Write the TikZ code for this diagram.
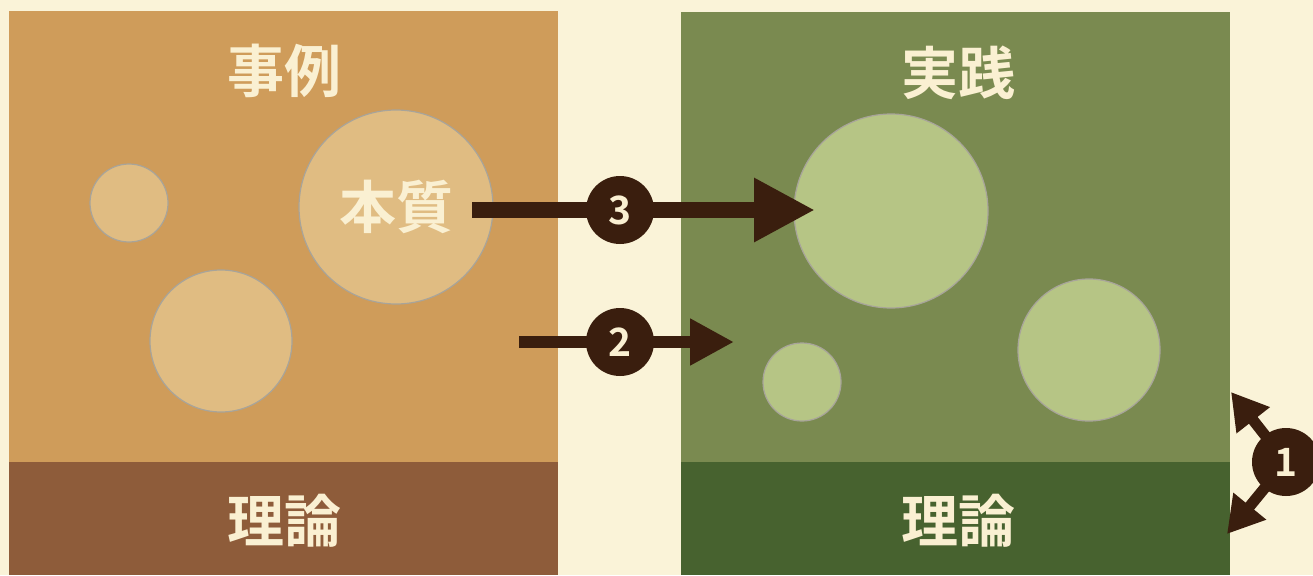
\documentclass[tikz,border=0pt]{standalone}
\usepackage{fontspec}
\setmainfont{Noto Sans CJK JP}
\newfontfamily\cjkb{Noto Sans CJK JP Bold}
\usetikzlibrary{arrows.meta}
\definecolor{bg}{HTML}{FAF3D8}
\definecolor{ltop}{HTML}{CF9C5A}
\definecolor{lband}{HTML}{8E5C3A}
\definecolor{rtop}{HTML}{7A8A50}
\definecolor{rband}{HTML}{47622F}
\definecolor{lcirc}{HTML}{E0BC82}
\definecolor{rcirc}{HTML}{B6C585}
\definecolor{cedge}{HTML}{A8A49A}
\definecolor{dark}{HTML}{3A1E0E}
\definecolor{cream}{HTML}{FAF0D2}
\tikzset{
  title/.style={text=cream, font=\cjkb\fontsize{57}{62}\selectfont, inner sep=0},
  lc/.style={circle, fill=lcirc, draw=cedge, line width=1.2pt, inner sep=0},
  rc/.style={circle, fill=rcirc, draw=cedge, line width=1.2pt, inner sep=0},
  num/.style={circle, fill=dark, text=cream, minimum size=68pt, inner sep=0, font=\cjkb\fontsize{39}{40}\selectfont},
  bigarrow/.style={draw=dark, line width=16pt, -{Triangle[length=61pt,width=60pt]}},
  midarrow/.style={draw=dark, line width=12pt, -{Triangle[length=44pt,width=44pt]}},
  smallarrow/.style={draw=dark, line width=11pt, -{Triangle[length=36pt,width=40pt]}}
}
\begin{document}
\begin{tikzpicture}[x=1pt,y=-1pt]
\useasboundingbox (0,0) rectangle (1313,575);
\fill[bg] (0,0) rectangle (1313,575);
% left panel
\fill[ltop] (9,11) rectangle (558,462);
\fill[lband] (9,462) rectangle (558,575);
% right panel
\fill[rtop] (681,12) rectangle (1230,462);
\fill[rband] (681,462) rectangle (1230,575);
% titles
\node[title] (t1) at (284,71) {事例};
\node[title] (t2) at (958,73) {実践};
\node[title] (t3) at (284,521) {理論};
\node[title] (t4) at (958,521) {理論};
% left circles
\node[lc, minimum size=78pt] (lc1) at (129,203) {};
\node[lc, minimum size=142pt] (lc2) at (221,341) {};
\node[lc, minimum size=194pt, font=\cjkb\fontsize{57}{62}\selectfont, text=cream] (lc3) at (396,207) {本質};
% right circles
\node[rc, minimum size=194pt] (rc1) at (891,211) {};
\node[rc, minimum size=142pt] (rc2) at (1089,350) {};
\node[rc, minimum size=78pt] (rc3) at (802,382) {};
% arrows
\coordinate (a3s) at (472,210);
\coordinate (a3e) at (815,210);
\draw[bigarrow] (a3s) -- (a3e);
\node[num] (n3) at (620,210) {3};
\coordinate (a2s) at (519,342);
\coordinate (a2e) at (734,342);
\draw[midarrow] (a2s) -- (a2e);
\node[num] (n2) at (620,342) {2};
\coordinate (c1) at (1286,462);
\coordinate (a1u) at (1231,392);
\coordinate (a1d) at (1227,534);
\draw[smallarrow] (c1) -- (a1u);
\draw[smallarrow] (c1) -- (a1d);
\node[num] (n1) at (c1) {1};
\end{tikzpicture}
\end{document}
